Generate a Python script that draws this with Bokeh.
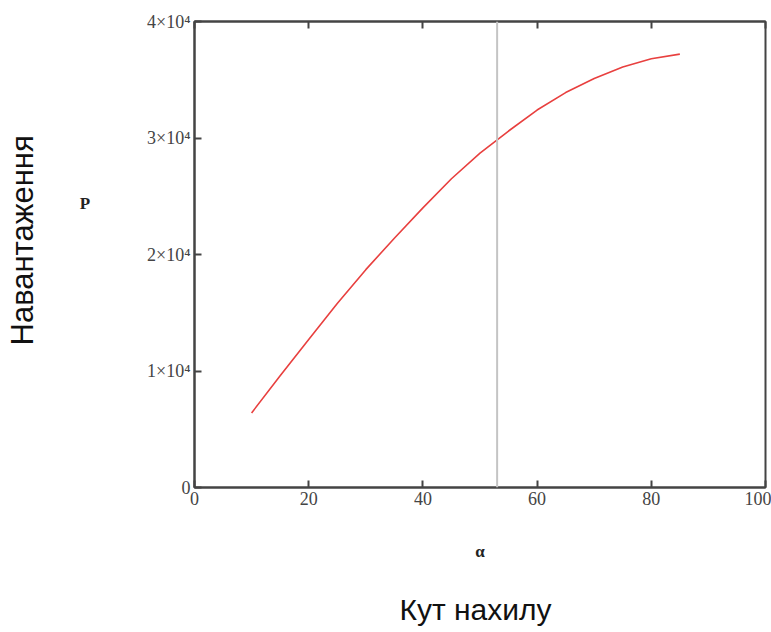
from bokeh.plotting import figure
from bokeh.models import LinearAxis, FixedTicker, Range1d, Span, Title, CustomLabelingPolicy
from bokeh.embed import file_html
from bokeh.resources import INLINE

alpha = [10, 15, 20, 25, 30, 35, 40, 45, 50, 55, 60, 65, 70, 75, 80, 85]
load_P = [6400, 9600, 12700, 15800, 18700, 21400, 24000, 26500, 28700,
          30600, 32400, 33900, 35100, 36100, 36800, 37200]
x_ticks = [0, 20, 40, 60, 80, 100]
y_ticks = [0, 10000, 20000, 30000, 40000]
y_tick_labels = ["0", "1×10⁴", "2×10⁴", "3×10⁴", "4×10⁴"]
marker_alpha = 53

p = figure(width=771, height=632, output_backend="svg", toolbar_location=None,
           x_range=Range1d(0, 100), y_range=Range1d(0, 40000),
           min_border_left=194, min_border_right=6, min_border_top=21,
           min_border_bottom=145, x_axis_location=None, y_axis_location=None)
p.background_fill_color = "white"
p.border_fill_color = "white"
p.outline_line_color = "#444444"
p.outline_line_width = 2
p.grid.visible = False

serif = "Liberation Serif"

xb = LinearAxis(ticker=FixedTicker(ticks=x_ticks), axis_label="α")
yl = LinearAxis(ticker=FixedTicker(ticks=y_ticks), axis_label="P\n\n\n\n\n",
                major_label_overrides={t: s for t, s in zip(y_ticks, y_tick_labels)})
xt = LinearAxis(ticker=FixedTicker(ticks=x_ticks),
                major_label_policy=CustomLabelingPolicy(
                    code="for (const i of Array.from(indices)) { indices.unset(i) }\nreturn indices"))
for ax in (xb, yl, xt):
    ax.axis_line_color = "#444444"
    ax.axis_line_width = 2
    ax.major_tick_in = 7
    ax.major_tick_out = 0
    ax.major_tick_line_color = "#444444"
    ax.major_tick_line_width = 2
    ax.minor_tick_line_color = None
    ax.major_label_text_font = serif
    ax.major_label_text_font_size = "18px"
    ax.major_label_text_color = "#444444"
    ax.major_label_standoff = 4
    ax.axis_label_text_font = serif
    ax.axis_label_text_font_style = "bold"
    ax.axis_label_text_font_size = "17px"
    ax.axis_label_text_color = "#222222"
xt.major_label_standoff = 0
yl.axis_label_orientation = "horizontal"
yl.axis_label_standoff = 54
yl.axis_label_text_line_height = 1.07
xb.axis_label_standoff = 34

p.add_layout(xb, "below")
p.add_layout(yl, "left")
p.add_layout(xt, "above")

p.line(alpha, load_P, line_color="#e8403f", line_width=1.6)

p.add_layout(Span(location=marker_alpha, dimension="height",
                  line_color="#c4c4c4", line_width=2))

p.add_layout(Title(text="\nКут нахилу", align="left", offset=205, text_font="Liberation Sans",
                   text_font_size="30px", text_font_style="normal", text_line_height=0.85,
                   text_color="#111111", standoff=0), "below")
p.add_layout(Title(text="Навантаження\n", align="left", offset=142, text_font="Liberation Sans",
                   text_font_size="31px", text_font_style="normal",
                   text_color="#111111", standoff=4), "left")

open("out.html", "w").write(file_html(p, INLINE))
